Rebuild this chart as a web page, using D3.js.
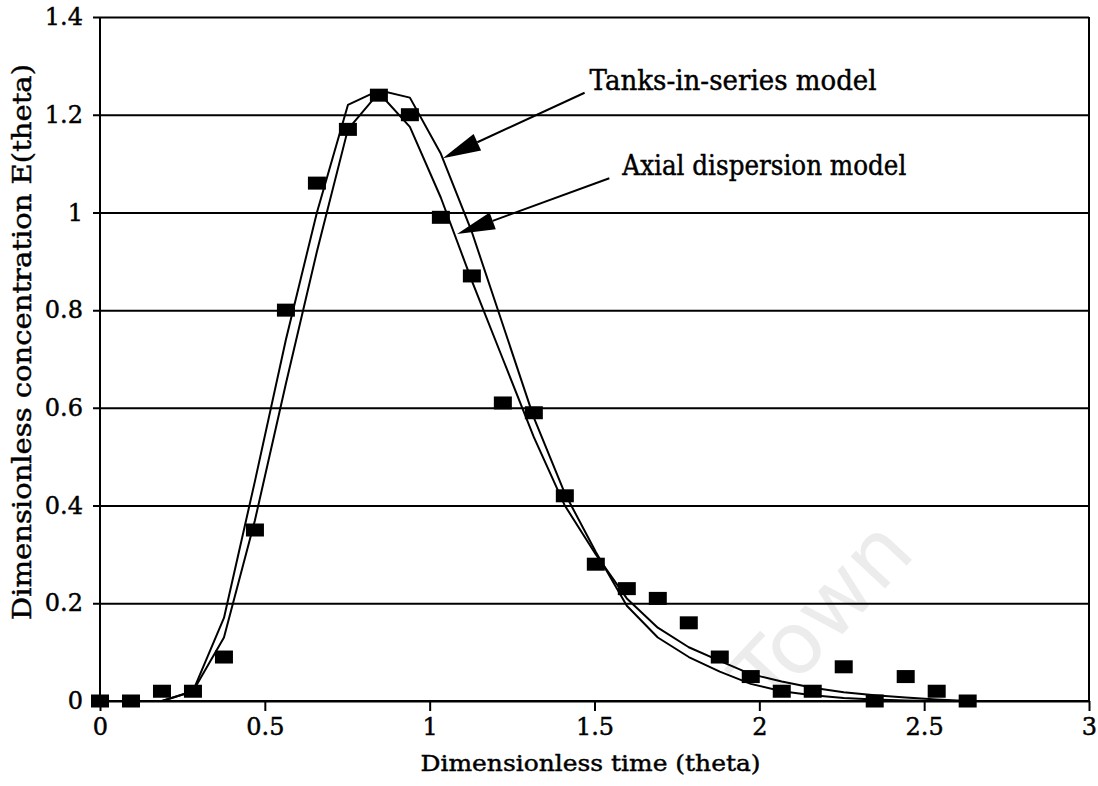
<!DOCTYPE html>
<html>
<head>
<meta charset="utf-8">
<script src="https://cdn.jsdelivr.net/npm/d3@7/dist/d3.min.js"></script>
<style>
  html, body { margin: 0; padding: 0; background: #fff; }
  svg { display: block; }
  text { font-family: "DejaVu Serif", "Liberation Serif", serif; fill: #000; }
  .ink { stroke: #000; stroke-width: 0.45px; }
</style>
</head>
<body>
<svg id="chart" width="1098" height="786"></svg>
<script>
// Dimensionless time of each sample
const theta = [0, 0.094, 0.188, 0.282, 0.376, 0.47, 0.564, 0.658, 0.752, 0.846,
               0.94, 1.034, 1.128, 1.222, 1.316, 1.41, 1.504, 1.598, 1.692, 1.786,
               1.88, 1.974, 2.068, 2.162, 2.256, 2.35, 2.444, 2.538, 2.632];

// Measured tracer response E(theta)
const measured = [0, 0, 0.02, 0.02, 0.09, 0.35, 0.80, 1.06, 1.17, 1.24,
                  1.20, 0.99, 0.87, 0.61, 0.59, 0.42, 0.28, 0.23, 0.21, 0.16,
                  0.09, 0.05, 0.02, 0.02, 0.07, 0, 0.05, 0.02, 0];

// Tanks-in-series model prediction
const tanksModel = [0, 0, 0, 0.02, 0.17, 0.45, 0.74, 1.00, 1.22, 1.25,
                    1.235, 1.12, 0.96, 0.77, 0.58, 0.425, 0.305, 0.195, 0.13, 0.09,
                    0.06, 0.035, 0.02, 0.012, 0.006, 0.003, 0.001, 0, 0];

// Axial dispersion model prediction
const axialModel = [0, 0, 0, 0.02, 0.13, 0.37, 0.65, 0.92, 1.17, 1.245,
                    1.175, 1.03, 0.86, 0.70, 0.54, 0.40, 0.30, 0.21, 0.15, 0.11,
                    0.082, 0.055, 0.04, 0.027, 0.018, 0.012, 0.007, 0.003, 0];

const xTicks = [0, 0.5, 1, 1.5, 2, 2.5, 3];
const yTicks = [0, 0.2, 0.4, 0.6, 0.8, 1, 1.2, 1.4];

const xTitle = "Dimensionless time (theta)";
const yTitle = "Dimensionless concentration  E(theta)";

// Annotation labels and the curve point (theta, E) each arrow points to
const notes = [
  { label: "Tanks-in-series model", at: [1.04, 1.111], from: [1.47, 1.245] },
  { label: "Axial dispersion model", at: [1.083, 0.956], from: [1.545, 1.07] }
];

const W = 1098, H = 786;
const margin = { top: 17, right: 9, bottom: 85, left: 100 };
const iw = W - margin.left - margin.right;
const ih = H - margin.top - margin.bottom;

const svg = d3.select("#chart");

// Faint background stamp
svg.append("text")
  .attr("transform", "translate(770,712) rotate(-47)")
  .style("font-family", "'DejaVu Sans', sans-serif")
  .style("font-size", "86px")
  .style("fill", "#ececec")
  .text("Town");

const g = svg.append("g").attr("transform", `translate(${margin.left},${margin.top})`);

const x = d3.scaleLinear().domain([0, 3]).range([0, iw]);
const y = d3.scaleLinear().domain([0, 1.4]).range([ih, 0]);

// Horizontal grid lines with short outward ticks on the left
const yAxis = d3.axisLeft(y).tickValues(yTicks)
  .tickFormat(d => d === 0 ? "0" : (d === 1 ? "1" : d3.format(".1f")(d)))
  .tickSizeInner(-iw).tickSizeOuter(0).tickPadding(17);
const yg = g.append("g").call(yAxis);
yg.select(".domain").remove();
yg.selectAll(".tick line").attr("x1", -7).attr("stroke", "#000").attr("stroke-width", 2);
yg.selectAll(".tick text").classed("ink", true)
  .style("font-family", "'DejaVu Serif', serif").style("font-size", "24px");

// Bottom axis with downward ticks
const xAxis = d3.axisBottom(x).tickValues(xTicks)
  .tickFormat(d => String(d)).tickSizeInner(10).tickSizeOuter(0).tickPadding(7);
const xg = g.append("g").attr("transform", `translate(0,${ih})`).call(xAxis);
xg.select(".domain").remove();
xg.selectAll(".tick line").attr("stroke", "#000").attr("stroke-width", 2);
xg.selectAll(".tick text").classed("ink", true)
  .style("font-family", "'DejaVu Serif', serif").style("font-size", "24px");

// Frame: left and right sides plus baseline
g.append("line").attr("x1", 0).attr("x2", 0).attr("y1", 0).attr("y2", ih)
  .attr("stroke", "#000").attr("stroke-width", 2);
g.append("line").attr("x1", iw).attr("x2", iw).attr("y1", 0).attr("y2", ih)
  .attr("stroke", "#000").attr("stroke-width", 2);
g.append("line").attr("x1", 0).attr("x2", iw).attr("y1", ih).attr("y2", ih)
  .attr("stroke", "#000").attr("stroke-width", 2);

// Model curves
const line = d3.line().x((d, i) => x(theta[i])).y(d => y(d));
g.append("path").datum(tanksModel).attr("d", line)
  .attr("fill", "none").attr("stroke", "#000").attr("stroke-width", 2)
  .attr("stroke-linejoin", "round");
g.append("path").datum(axialModel).attr("d", line)
  .attr("fill", "none").attr("stroke", "#000").attr("stroke-width", 2)
  .attr("stroke-linejoin", "round");

// Measured points as filled squares
const sqW = 18, sqH = 13;
g.append("g").selectAll("rect").data(measured).join("rect")
  .attr("x", (d, i) => x(theta[i]) - sqW / 2)
  .attr("y", d => y(d) - sqH / 2)
  .attr("width", sqW).attr("height", sqH)
  .attr("fill", "#000");

// Annotation arrows with solid triangular heads
const headLen = 38, headHalf = 9;
notes.forEach((n, k) => {
  const tx = x(n.at[0]), ty = y(n.at[1]);
  const fx = x(n.from[0]), fy = y(n.from[1]);
  const dx = fx - tx, dy = fy - ty, len = Math.hypot(dx, dy);
  const ux = dx / len, uy = dy / len;
  const bx = tx + ux * headLen, by = ty + uy * headLen;
  g.append("line").attr("x1", fx).attr("y1", fy).attr("x2", bx).attr("y2", by)
    .attr("stroke", "#000").attr("stroke-width", 2);
  g.append("path")
    .attr("d", `M${tx},${ty}L${bx - uy * headHalf},${by + ux * headHalf}L${bx + uy * headHalf},${by - ux * headHalf}Z`)
    .attr("fill", "#000");
  g.append("text").classed("ink", true)
    .attr("x", fx + 5 + k * 8).attr("y", fy - 3)
    .attr("textLength", k === 0 ? 287 : 284)
    .attr("lengthAdjust", "spacingAndGlyphs")
    .style("font-size", "27px")
    .text(n.label);
});

// Axis titles
svg.append("text").classed("ink", true)
  .attr("x", margin.left + x(1.5) - 4).attr("y", 771)
  .attr("text-anchor", "middle")
  .attr("textLength", 340).attr("lengthAdjust", "spacingAndGlyphs")
  .style("font-size", "23px")
  .text(xTitle);

svg.append("text").classed("ink", true)
  .attr("transform", `translate(31,${342}) rotate(-90)`)
  .attr("text-anchor", "middle")
  .attr("textLength", 556).attr("lengthAdjust", "spacingAndGlyphs")
  .style("font-size", "26px")
  .text(yTitle);
</script>
</body>
</html>
